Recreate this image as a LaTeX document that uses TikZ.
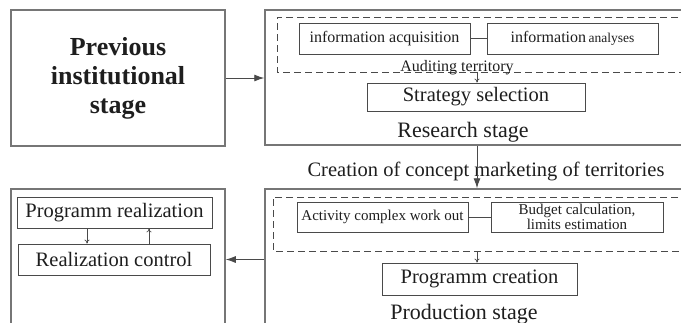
\documentclass[tikz,border=0pt]{standalone}
\usepackage{fontspec}
\setmainfont{Liberation Serif}
\usetikzlibrary{arrows.meta}
\definecolor{outerline}{HTML}{767676}
\definecolor{innerline}{HTML}{4A4A4A}
\definecolor{inktext}{HTML}{1E1E1E}
\tikzset{
  outerbox/.style={draw=outerline, line width=1.5pt, rectangle, inner sep=0pt},
  innerbox/.style={draw=innerline, line width=0.9pt, rectangle, inner sep=0pt, text=inktext},
  dashbox/.style={draw=innerline, line width=0.9pt, dash pattern=on 7pt off 4pt},
  bigarrow/.style={draw=innerline, line width=0.9pt, -{Latex[length=10pt,width=7pt]}},
  smallarrow/.style={draw=innerline, line width=0.7pt, -{To[length=4pt,width=5pt]}},
  link/.style={draw=innerline, line width=0.9pt},
  lbl/.style={text=inktext, inner sep=0pt}
}
\begin{document}
\begin{tikzpicture}[x=1pt, y=-1pt]
\useasboundingbox (0,0) rectangle (681,322);
\clip (0,0) rectangle (681,322);

% Previous institutional stage
\node[outerbox, minimum width=214pt, minimum height=136pt, align=center,
      font=\fontsize{26}{29}\selectfont\bfseries, text=inktext] (prev) at (118,78)
  {Previous\\institutional\\stage};

% Research stage
\node[outerbox, minimum width=435pt, minimum height=135pt] (research) at (482.5,77.5) {};
\draw[dashbox] (700,17) -- (277,17) -- (277,72) -- (700,72);
\coordinate (auditbottom) at (477,72);
\node[innerbox, minimum width=171pt, minimum height=31pt, font=\fontsize{16}{18}\selectfont] (acq) at (384.5,38.5) {information acquisition};
\node[innerbox, minimum width=171pt, minimum height=31pt] (ana) at (572.5,38.5)
  {{\fontsize{16}{18}\selectfont information} {\fontsize{13.5}{16}\selectfont analyses}};
\draw[link] (acq.east) -- (ana.west);
\node[lbl, anchor=base, font=\fontsize{16}{18}\selectfont] (audit) at (457,71) {Auditing territory};
\node[innerbox, minimum width=218pt, minimum height=28pt, font=\fontsize{20.5}{23}\selectfont] (strat) at (476,97) {Strategy selection};
\draw[smallarrow] (auditbottom) -- (strat.north -| auditbottom);
\node[lbl, anchor=base, font=\fontsize{22}{25}\selectfont] (rlabel) at (463,137) {Research stage};

% Transition label and arrow
\node[lbl, anchor=base, font=\fontsize{20.5}{23}\selectfont] (concept) at (486,176) {Creation of concept marketing of territories};

% Production stage
\node[outerbox, minimum width=435pt, minimum height=151pt] (production) at (482.5,264.5) {};
\draw[bigarrow] (research.south -| auditbottom) -- (production.north -| auditbottom);
\draw[dashbox] (700,197) -- (273,197) -- (273,251) -- (700,251);
\coordinate (workbottom) at (477,251);
\node[innerbox, minimum width=171pt, minimum height=30pt, font=\fontsize{15}{17}\selectfont] (act) at (382.5,217) {Activity complex work out};
\node[innerbox, minimum width=172pt, minimum height=30pt, align=center, font=\fontsize{15}{15}\selectfont] (budget) at (577,217) {Budget calculation,\\limits estimation};
\draw[link] (act.east) -- (budget.west);
\node[innerbox, minimum width=195pt, minimum height=32pt, font=\fontsize{20.5}{23}\selectfont] (create) at (479.5,279) {Programm creation};
\draw[smallarrow] (workbottom) -- (create.north -| workbottom);
\node[lbl, anchor=base, font=\fontsize{22}{25}\selectfont] (plabel) at (464,319) {Production stage};

% Realization stage
\node[outerbox, minimum width=214pt, minimum height=151pt] (realstage) at (118,264.5) {};
\node[innerbox, minimum width=195pt, minimum height=31pt, font=\fontsize{20.5}{23}\selectfont] (real) at (114.5,212.5) {Programm realization};
\node[innerbox, minimum width=192pt, minimum height=31pt, font=\fontsize{20.5}{23}\selectfont] (control) at (114,259.5) {Realization control};
\coordinate (downx) at (87,0);
\coordinate (upx) at (149,0);
\draw[smallarrow] (real.south -| downx) -- (control.north -| downx);
\draw[smallarrow] (control.north -| upx) -- (real.south -| upx);

% Stage transitions
\draw[bigarrow] (prev.east) -- (research.west |- prev.east);
\draw[bigarrow] (production.west |- control.east) -- (realstage.east |- control.east);
\end{tikzpicture}
\end{document}
